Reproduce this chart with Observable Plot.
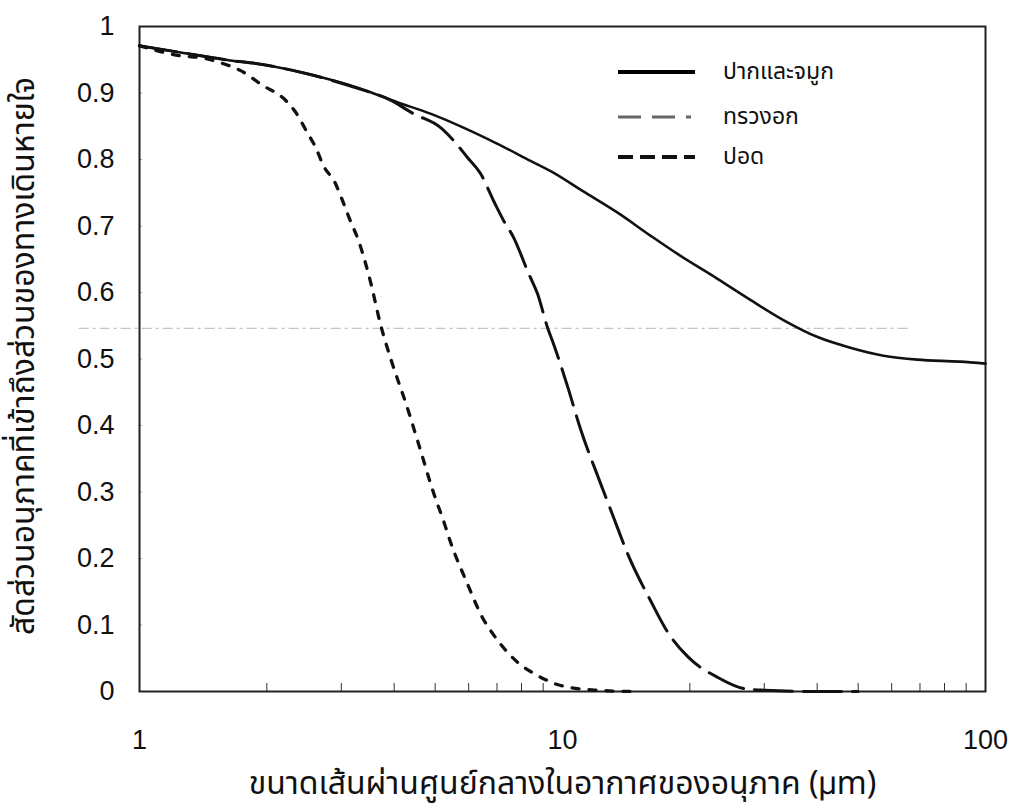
<!DOCTYPE html>
<html>
<head>
<meta charset="utf-8">
<script src="https://cdn.jsdelivr.net/npm/d3@7"></script>
<script src="https://cdn.jsdelivr.net/npm/@observablehq/plot@0.6"></script>
<style>
  html, body { margin: 0; padding: 0; background: #fff; }
  #wrap { position: relative; width: 1011px; height: 810px; }
  #legend { position: absolute; left: 615px; top: 0; font-family: "Noto Sans Thai", "Loma", "Garuda", "Noto Sans", sans-serif; font-size: 23px; color: #111; }
  #legend .row { position: absolute; left: 0; display: flex; align-items: center; height: 30px; white-space: nowrap; }
  #legend svg { width: 90px; height: 10px; margin-right: 18px; }
</style>
</head>
<body>
<div id="wrap"></div>
<script>
// ----- data -----
const inhalX = [1, 1.25, 1.64, 1.9, 2.49, 3.28, 4.07, 4.87, 5.83, 7.0, 8.4, 9.4, 11.2, 13.5, 16.1, 18.7, 23.2, 27.8, 33.2, 40.1, 47.9, 57.4, 69, 87, 100];
const inhalY = [0.971, 0.961, 0.949, 0.944, 0.929, 0.908, 0.886, 0.869, 0.848, 0.824, 0.798, 0.782, 0.752, 0.72, 0.686, 0.658, 0.621, 0.589, 0.559, 0.533, 0.517, 0.505, 0.499, 0.496, 0.493];

const thorX = [1, 1.25, 1.64, 1.9, 2.49, 3.28, 3.9, 4.44, 5.15, 5.52, 5.96, 6.4, 6.87, 7.26, 7.66, 8.31, 8.73, 9.22, 9.52, 10.3, 11.0, 12.3, 13.2, 14.3, 16.2, 17.7, 19.8, 23.3, 26.8, 30, 40, 50];
const thorY = [0.971, 0.961, 0.949, 0.944, 0.929, 0.907, 0.89, 0.869, 0.848, 0.829, 0.803, 0.779, 0.738, 0.708, 0.683, 0.629, 0.598, 0.547, 0.523, 0.457, 0.397, 0.313, 0.262, 0.205, 0.135, 0.09, 0.052, 0.021, 0.0045, 0.002, 0, 0];

const respX = [1, 1.25, 1.43, 1.58, 1.73, 1.96, 2.19, 2.34, 2.49, 2.61, 2.72, 2.9, 3.02, 3.15, 3.29, 3.52, 3.71, 3.96, 4.28, 4.59, 4.96, 5.23, 5.44, 5.96, 6.47, 6.84, 7.83, 8.73, 9.9, 12, 14.7];
const respY = [0.971, 0.956, 0.952, 0.944, 0.934, 0.911, 0.892, 0.871, 0.841, 0.818, 0.791, 0.765, 0.738, 0.708, 0.679, 0.615, 0.553, 0.493, 0.430, 0.368, 0.298, 0.257, 0.224, 0.162, 0.111, 0.087, 0.044, 0.024, 0.009, 0.002, 0];

const xMajorTicks = [1, 10, 100];
const xMinorTicks = [2, 3, 4, 5, 6, 7, 8, 9, 20, 30, 40, 50, 60, 70, 80, 90];
const yTicks = [0, 0.1, 0.2, 0.3, 0.4, 0.5, 0.6, 0.7, 0.8, 0.9, 1];

const seriesNames = ["ปากและจมูก", "ทรวงอก", "ปอด"];
const xTitle = "ขนาดเส้นผ่านศูนย์กลางในอากาศของอนุภาค (µm)";
const yTitle = "สัดส่วนอนุภาคที่เข้าถึงส่วนของทางเดินหายใจ";

const zip = (xs, ys) => xs.map((x, i) => ({x, y: ys[i]}));
const inhal = zip(inhalX, inhalY);
const thor = zip(thorX, thorY);
const resp = zip(respX, respY);

const thaiFont = '"Noto Sans Thai", "Loma", "Garuda", "Noto Sans", sans-serif';

const chart = Plot.plot({
  width: 1011,
  height: 810,
  marginLeft: 139,
  marginRight: 26,
  marginTop: 26,
  marginBottom: 119,
  style: { fontFamily: '"Liberation Sans", Arial, sans-serif', background: "#fff", color: "#111" },
  x: { type: "log", domain: [1, 100] },
  y: { domain: [0, 1] },
  marks: [
    Plot.ruleY([0.546], { x1: 0.72, x2: 66, stroke: "#c4c4c4", strokeWidth: 1.2, strokeDasharray: "10,4,3,4" }),
    Plot.ruleX(xMinorTicks, { x: d => d, y1: 0, y2: 0.012, stroke: "#333", strokeWidth: 1 }),
    Plot.ruleY(yTicks, { y: d => d, x1: 1, x2: 1.015, stroke: "#888", strokeWidth: 1 }),
    Plot.frame({ stroke: "#222", strokeWidth: 2 }),
    Plot.axisX({ ticks: xMajorTicks, tickSize: 0, tickPadding: 38, fontSize: 27, tickFormat: d => String(d), label: null }),
    Plot.axisY({ ticks: yTicks, tickSize: 0, tickPadding: 25, fontSize: 27, tickFormat: d => (d === 0 || d === 1) ? String(d) : d.toFixed(1), label: null }),
    Plot.line(resp, { x: "x", y: "y", curve: "monotone-x", stroke: "#111", strokeWidth: 3.3, strokeDasharray: "7,10" }),
    Plot.line(thor, { x: "x", y: "y", curve: "monotone-x", stroke: "#111", strokeWidth: 3, strokeDasharray: "38,11" }),
    Plot.line(inhal, { x: "x", y: "y", curve: "monotone-x", stroke: "#111", strokeWidth: 2.6 }),
    Plot.text([xTitle], { frameAnchor: "bottom", dy: 102, fontSize: 32, fontFamily: thaiFont, fill: "#111" }),
    Plot.text([yTitle], { frameAnchor: "left", textAnchor: "middle", rotate: -90, dx: -116, dy: -3, fontSize: 32, fontFamily: thaiFont, fill: "#111" })
  ]
});

const wrap = document.getElementById("wrap");
wrap.appendChild(chart);

// legend (inside the plot area, top-right)
const legend = document.createElement("div");
legend.id = "legend";
const styles = [
  { dash: null, color: "#000", w: 4, top: 57 },
  { dash: "23,11,23,11,5", color: "#666", w: 3, top: 102 },
  { dash: "15,7", color: "#111", w: 4, top: 142 }
];
seriesNames.forEach((name, i) => {
  const row = document.createElement("div");
  row.className = "row";
  const s = styles[i];
  row.style.top = s.top + "px";
  row.innerHTML = `<svg viewBox="0 0 90 10"><line x1="3" x2="80" y1="5" y2="5" stroke="${s.color}" stroke-width="${s.w}" ${s.dash ? `stroke-dasharray="${s.dash}"` : ""}/></svg><span>${name}</span>`;
  legend.appendChild(row);
});
wrap.appendChild(legend);
</script>
</body>
</html>
